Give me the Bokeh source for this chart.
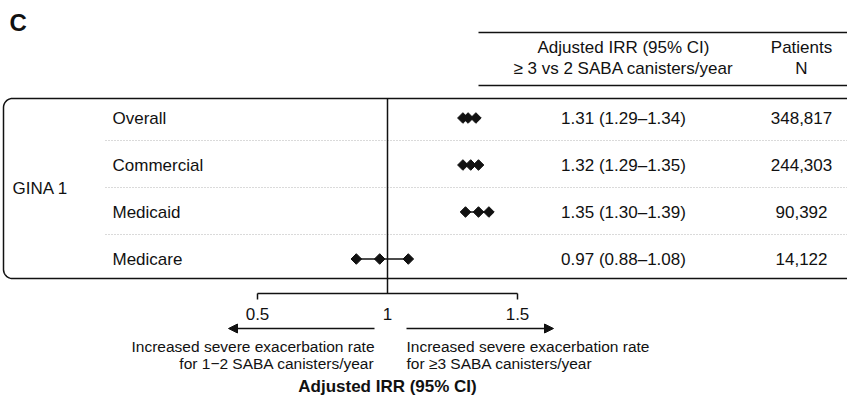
import numpy as np
from bokeh.plotting import figure
from bokeh.models import Range1d, Arrow, NormalHead
from bokeh.embed import file_html
from bokeh.resources import INLINE
from bokeh.core.properties import value

# ---------------- data ----------------
panel_label = "C"
group_label = "GINA 1"
subgroups = ["Overall", "Commercial", "Medicaid", "Medicare"]
irr = [1.31, 1.32, 1.35, 0.97]
ci_low = [1.29, 1.29, 1.30, 0.88]
ci_high = [1.34, 1.35, 1.39, 1.08]
patients = [348817, 244303, 90392, 14122]
tick_values = [0.5, 1, 1.5]
tick_labels = ["0.5", "1", "1.5"]
header_irr = ["Adjusted IRR (95% CI)", "\u2265 3 vs 2 SABA canisters/year"]
header_n = ["Patients", "N"]
left_note = ["Increased severe exacerbation rate", "for 1\u22122 SABA canisters/year"]
right_note = ["Increased severe exacerbation rate", "for \u22653 SABA canisters/year"]
axis_title = "Adjusted IRR (95% CI)"

# ---------------- layout ----------------
W, H = 847, 402
X_REF_PX = 387        # pixel of IRR = 1
PX_PER_UNIT = 260


def xd(px):
    return 1 + (px - X_REF_PX) / PX_PER_UNIT


FONT = value("Liberation Sans")
INK = "#111111"

p = figure(width=W, height=H, x_range=Range1d(xd(0), xd(W)), y_range=Range1d(H, 0),
           output_backend="svg", toolbar_location=None, min_border=0,
           x_axis_location=None, y_axis_location=None)
p.grid.visible = False
p.outline_line_color = None
p.background_fill_color = "white"
p.border_fill_color = "white"

row_y = [117.5 + i * 47 for i in range(len(subgroups))]
box_top, box_bot = 98, 278

# panel label
p.text(x=[xd(9)], y=[22], text=[panel_label], text_font=FONT, text_font_size="24px",
       text_font_style="bold", text_color=INK, text_align="left", text_baseline="middle")

# header
p.segment(x0=[xd(478)] * 2, x1=[xd(W)] * 2, y0=[32, 85], y1=[32, 85], line_color=INK, line_width=1.5)
p.text(x=[xd(623)] * 2, y=[47, 68], text=header_irr, text_font=FONT, text_font_size="17px",
       text_color=INK, text_align="center", text_baseline="middle")
p.text(x=[xd(801)] * 2, y=[47, 68], text=header_n, text_font=FONT, text_font_size="17px",
       text_color=INK, text_align="center", text_baseline="middle")

# rounded box (open on the right)
r = 9
left = 3
t1 = np.linspace(np.pi / 2, np.pi, 12)
t2 = np.linspace(np.pi, 1.5 * np.pi, 12)
bx = ([W] + list(left + r + r * np.cos(t1)) + list(left + r + r * np.cos(t2)) + [W])
by = ([box_top] + list(box_top + r - r * np.sin(t1)) + list(box_bot - r - r * np.sin(t2)) + [box_bot])
p.line(x=[xd(v) for v in bx], y=by, line_color=INK, line_width=1.5)

# dotted separators
sep_y = [(row_y[i] + row_y[i + 1]) / 2 - 1 for i in range(len(row_y) - 1)]
p.segment(x0=[xd(105)] * len(sep_y), x1=[xd(W)] * len(sep_y), y0=sep_y, y1=sep_y,
          line_color="#b5b5b5", line_width=1, line_dash="1 2")

# reference line at IRR = 1
p.segment(x0=[1], x1=[1], y0=[box_top], y1=[293], line_color=INK, line_width=1.5)

# labels
p.text(x=[xd(12)], y=[(row_y[0] + row_y[-1]) / 2], text=[group_label], text_font=FONT,
       text_font_size="17px", text_color=INK, text_align="left", text_baseline="middle")
p.text(x=[xd(112)] * len(subgroups), y=row_y, text=subgroups, text_font=FONT,
       text_font_size="17px", text_color=INK, text_align="left", text_baseline="middle")

ci_text = [f"{e:.2f} ({lo:.2f}\u2013{hi:.2f})" for e, lo, hi in zip(irr, ci_low, ci_high)]
p.text(x=[xd(623)] * len(subgroups), y=row_y, text=ci_text, text_font=FONT,
       text_font_size="17px", text_color=INK, text_align="center", text_baseline="middle")
p.text(x=[xd(801)] * len(subgroups), y=row_y, text=[f"{n:,}" for n in patients], text_font=FONT,
       text_font_size="17px", text_color=INK, text_align="center", text_baseline="middle")

# forest marks
p.segment(x0=ci_low, x1=ci_high, y0=row_y, y1=row_y, line_color=INK, line_width=1.5)
p.scatter(x=ci_low + irr + ci_high, y=row_y * 3, marker="square", size=7.5, angle=np.pi / 4,
          fill_color=INK, line_color=INK)

# x axis
axis_y = 293
p.segment(x0=[min(tick_values)], x1=[max(tick_values)], y0=[axis_y], y1=[axis_y],
          line_color=INK, line_width=1.5)
end_ticks = [tick_values[0], tick_values[-1]]
p.segment(x0=end_ticks, x1=end_ticks, y0=[axis_y] * 2, y1=[axis_y + 6] * 2,
          line_color=INK, line_width=1.5)
p.text(x=tick_values, y=[313] * len(tick_values), text=tick_labels, text_font=FONT,
       text_font_size="17px", text_color=INK, text_align="center", text_baseline="middle")

# arrows
p.add_layout(Arrow(end=NormalHead(size=9, fill_color=INK, line_color=INK),
                   x_start=xd(374), x_end=xd(228), y_start=328, y_end=328,
                   line_color=INK, line_width=1.5))
p.add_layout(Arrow(end=NormalHead(size=9, fill_color=INK, line_color=INK),
                   x_start=xd(406), x_end=xd(553), y_start=328, y_end=328,
                   line_color=INK, line_width=1.5))

p.text(x=[xd(374)] * 2, y=[346, 363], text=left_note, text_font=FONT, text_font_size="15.5px",
       text_color=INK, text_align="right", text_baseline="middle")
p.text(x=[xd(406)] * 2, y=[346, 363], text=right_note, text_font=FONT, text_font_size="15.5px",
       text_color=INK, text_align="left", text_baseline="middle")
p.text(x=[1], y=[386], text=[axis_title], text_font=FONT, text_font_size="17px",
       text_font_style="bold", text_color=INK, text_align="center", text_baseline="middle")

open("out.html", "w").write(file_html(p, INLINE))
